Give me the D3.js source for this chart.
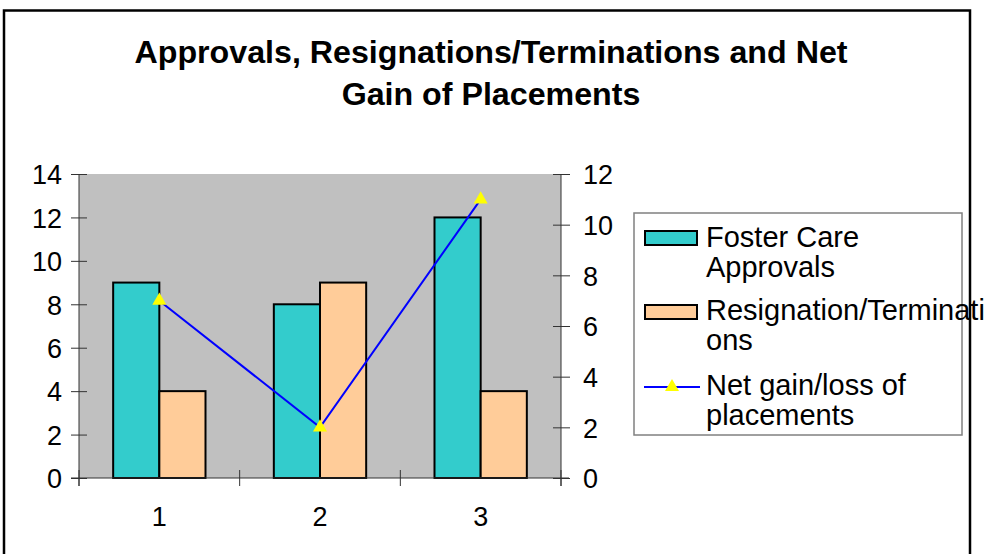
<!DOCTYPE html>
<html>

<head>
  <title>Approvals, Resignations/Terminations and Net Gain of Placements</title>
  <script src="https://cdn.jsdelivr.net/npm/d3@7"></script>
  <style>
    body { margin: 0; background: #fff; }
    text { font-family: "Liberation Sans", Arial, sans-serif; }
  </style>
</head>

<body>
  <div id="chart"></div>

  <script>
    // data
    const categories = ["1", "2", "3"]
    const approvals = [9, 8, 12]
    const resignations = [4, 9, 4]
    const netGain = [7, 2, 11]
    const leftTicks = [0, 2, 4, 6, 8, 10, 12, 14]
    const rightTicks = [0, 2, 4, 6, 8, 10, 12]

    const width = 994
    const height = 554

    const plot = { left: 79, right: 561, top: 174, bottom: 478 }

    const svg = d3.select("#chart")
      .append("svg")
      .attr("width", width)
      .attr("height", height)

    // outer frame
    svg.append("rect")
      .attr("x", 4)
      .attr("y", 10.5)
      .attr("width", 966)
      .attr("height", 570)
      .attr("fill", "#fff")
      .attr("stroke", "#000")
      .attr("stroke-width", 2.5)

    // title
    const title = svg.append("text")
      .attr("text-anchor", "middle")
      .style("font-size", "32.2px")
      .style("font-weight", "bold")
    title.append("tspan").attr("x", 491).attr("y", 63).text("Approvals, Resignations/Terminations and Net")
    title.append("tspan").attr("x", 491).attr("y", 105).text("Gain of Placements")

    const x0 = d3.scaleBand()
      .domain(categories)
      .range([plot.left, plot.right])
      .padding(0)

    const x1 = d3.scaleBand()
      .domain(["approvals", "resignations"])
      .range([0, x0.bandwidth()])
      .paddingInner(0)
      .paddingOuter(0.74)

    const yLeft = d3.scaleLinear().domain([0, 14]).range([plot.bottom, plot.top])
    const yRight = d3.scaleLinear().domain([0, 12]).range([plot.bottom, plot.top])

    // plot background
    svg.append("rect")
      .attr("x", plot.left)
      .attr("y", plot.top)
      .attr("width", plot.right - plot.left)
      .attr("height", plot.bottom - plot.top)
      .attr("fill", "#c0c0c0")

    // bars
    const rows = categories.map((c, i) => ({ cat: c, approvals: approvals[i], resignations: resignations[i] }))
    const colors = { approvals: "#33cccc", resignations: "#ffcc99" }

    const groups = svg.append("g")
      .selectAll("g")
      .data(rows)
      .enter()
      .append("g")
      .attr("transform", d => `translate(${x0(d.cat)},0)`)

    groups.selectAll("rect")
      .data(d => ["approvals", "resignations"].map(k => ({ key: k, value: d[k] })))
      .enter()
      .append("rect")
      .attr("x", d => x1(d.key))
      .attr("y", d => yLeft(d.value))
      .attr("width", x1.bandwidth())
      .attr("height", d => yLeft(0) - yLeft(d.value))
      .attr("fill", d => colors[d.key])
      .attr("stroke", "#000")
      .attr("stroke-width", 2)

    // axes
    const axisColor = "#333"
    const axisFont = "27px"

    const leftAxis = svg.append("g")
      .attr("transform", `translate(${plot.left},0)`)
      .call(d3.axisLeft(yLeft).tickValues(leftTicks).tickSize(8).tickPadding(9))
    leftAxis.select(".domain").remove()
    leftAxis.selectAll(".tick line").attr("x2", 8).attr("x1", -8).attr("stroke", axisColor)
    leftAxis.selectAll(".tick text").style("font-size", axisFont).attr("fill", "#000").attr("dy", "0.36em")

    const rightAxis = svg.append("g")
      .attr("transform", `translate(${plot.right},0)`)
      .call(d3.axisRight(yRight).tickValues(rightTicks).tickSize(9).tickPadding(13))
    rightAxis.select(".domain").remove()
    rightAxis.selectAll(".tick line").attr("x1", -8).attr("x2", 9).attr("stroke", axisColor)
    rightAxis.selectAll(".tick text").style("font-size", axisFont).attr("fill", "#000").attr("dy", "0.36em")

    svg.append("line")
      .attr("x1", plot.left).attr("x2", plot.left)
      .attr("y1", plot.top).attr("y2", plot.bottom + 8)
      .attr("stroke", axisColor)
    svg.append("line")
      .attr("x1", plot.right).attr("x2", plot.right)
      .attr("y1", plot.top).attr("y2", plot.bottom + 8)
      .attr("stroke", axisColor)

    const bottomAxis = svg.append("g")
      .attr("transform", `translate(0,${plot.bottom})`)
      .call(d3.axisBottom(x0).tickSize(0).tickPadding(29))
    bottomAxis.select(".domain").attr("stroke", axisColor).attr("d", `M${plot.left - 8},0H${plot.right + 8}`)
    bottomAxis.selectAll(".tick text").style("font-size", axisFont).attr("fill", "#000")

    // category boundary ticks
    bottomAxis.selectAll(".sep")
      .data(categories.concat(["end"]))
      .enter()
      .append("line")
      .attr("class", "sep")
      .attr("x1", (d, i) => plot.left + i * x0.step())
      .attr("x2", (d, i) => plot.left + i * x0.step())
      .attr("y1", -8)
      .attr("y2", 8)
      .attr("stroke", axisColor)

    // net gain line
    const pts = categories.map((c, i) => ({ x: x0(c) + x0.bandwidth() / 2, y: yRight(netGain[i]) }))

    svg.append("path")
      .datum(pts)
      .attr("fill", "none")
      .attr("stroke", "#0000ff")
      .attr("stroke-width", 2)
      .attr("d", d3.line().x(d => d.x).y(d => d.y))

    const tri = d3.symbol().type(d3.symbolTriangle).size(85)

    svg.append("g")
      .selectAll("path")
      .data(pts)
      .enter()
      .append("path")
      .attr("transform", d => `translate(${d.x},${d.y})`)
      .attr("d", tri)
      .attr("fill", "#ffff00")

    // legend
    const legend = svg.append("g")
    legend.append("rect")
      .attr("x", 634)
      .attr("y", 213)
      .attr("width", 328)
      .attr("height", 222)
      .attr("fill", "#fff")
      .attr("stroke", "#808080")
      .attr("stroke-width", 1.5)

    const legendItems = [
      { kind: "bar", color: colors.approvals, cy: 238, lines: ["Foster Care", "Approvals"], base: 247 },
      { kind: "bar", color: colors.resignations, cy: 312, lines: ["Resignation/Terminati", "ons"], base: 320 },
      { kind: "line", cy: 387, lines: ["Net gain/loss of", "placements"], base: 395 }
    ]

    legendItems.forEach(item => {
      if (item.kind === "bar") {
        legend.append("rect")
          .attr("x", 645)
          .attr("y", item.cy - 7)
          .attr("width", 52)
          .attr("height", 14)
          .attr("fill", item.color)
          .attr("stroke", "#000")
          .attr("stroke-width", 2)
      } else {
        legend.append("line")
          .attr("x1", 644).attr("x2", 700)
          .attr("y1", item.cy).attr("y2", item.cy)
          .attr("stroke", "#0000ff")
          .attr("stroke-width", 2)
        legend.append("path")
          .attr("transform", `translate(672,${item.cy})`)
          .attr("d", tri)
          .attr("fill", "#ffff00")
      }
      const t = legend.append("text").style("font-size", "29px").attr("fill", "#000")
      item.lines.forEach((ln, j) => {
        t.append("tspan").attr("x", 706).attr("y", item.base + j * 29.5).text(ln)
      })
    })
  </script>
</body>

</html>
